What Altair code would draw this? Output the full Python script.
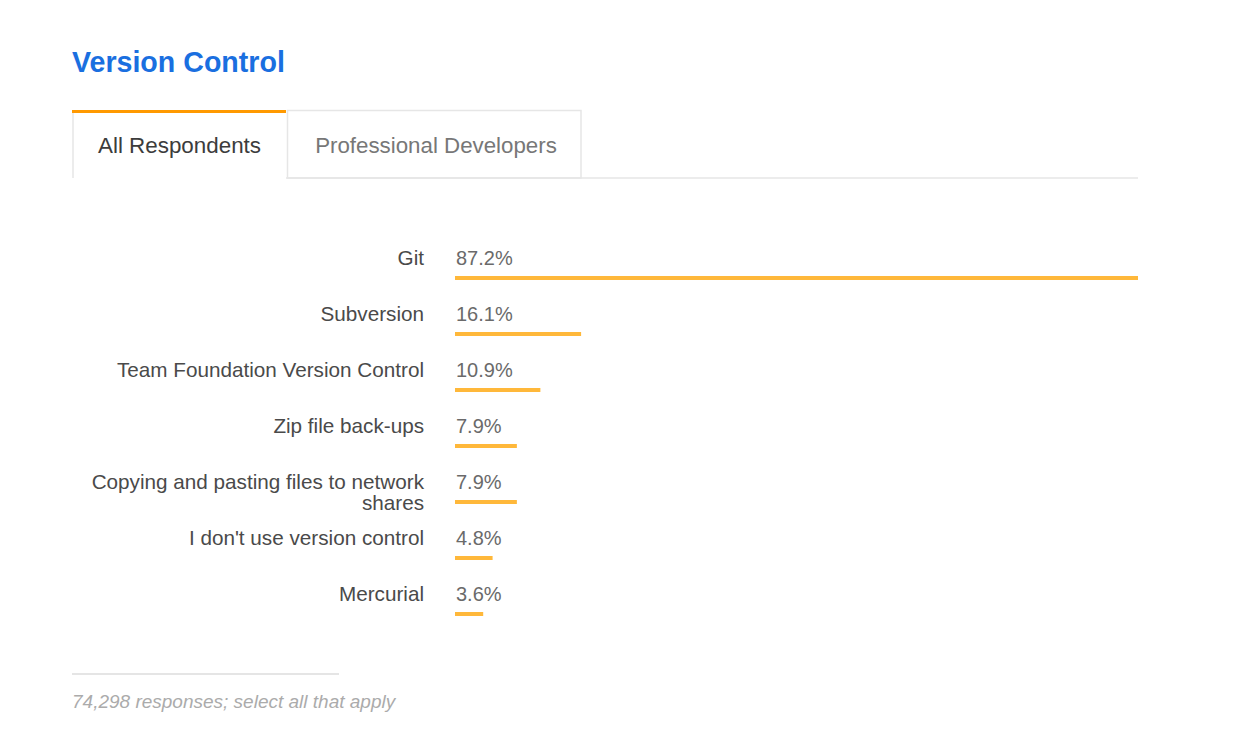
import altair as alt
import pandas as pd

# ---- data ----
categories = [
    "Git",
    "Subversion",
    "Team Foundation Version Control",
    "Zip file back-ups",
    "Copying and pasting files to network shares",
    "I don't use version control",
    "Mercurial",
]
label_lines = [
    ["Git"],
    ["Subversion"],
    ["Team Foundation Version Control"],
    ["Zip file back-ups"],
    ["Copying and pasting files to network", "shares"],
    ["I don't use version control"],
    ["Mercurial"],
]
values = [87.2, 16.1, 10.9, 7.9, 7.9, 4.8, 3.6]
value_labels = ["87.2%", "16.1%", "10.9%", "7.9%", "7.9%", "4.8%", "3.6%"]

title_text = "Version Control"
tab_labels = ["All Respondents", "Professional Developers"]
footer_text = "74,298 responses; select all that apply"

FONT = "Liberation Sans"
BAR = "#FFB83A"
ORANGE = "#FF9900"
BORDER = "#E6E6E6"

df = pd.DataFrame({
    "cat": categories,
    "lines": label_lines,
    "value": values,
    "vlabel": value_labels,
})

W, H = 1244, 727

yenc = alt.Y("cat:N", sort=categories,
             scale=alt.Scale(type="point", range=[270, 606], padding=0),
             axis=None)
xscale = alt.Scale(domain=[0, 87.2], range=[447, 1130])

base = alt.Chart(df)

bars = base.mark_bar(height=4, color=BAR).encode(
    x=alt.X("value:Q", scale=xscale, axis=None),
    x2=alt.datum(0),
    y=yenc,
)

cat_text = base.mark_text(
    align="right", baseline="top", dy=-29, font=FONT, fontSize=20.7,
    color="#4a4a4a", lineHeight=21,
).encode(x=alt.value(416), y=yenc, text="lines")

val_text = base.mark_text(
    align="left", baseline="top", dy=-29, font=FONT, fontSize=20,
    color="#6a6a6a",
).encode(x=alt.value(448), y=yenc, text="vlabel:N")

one = alt.Chart(pd.DataFrame({"k": [0]}))

title = one.mark_text(
    text=title_text, align="left", baseline="alphabetic", font=FONT,
    fontSize=28.6, fontWeight="bold", color="#1A6FE0",
).encode(x=alt.value(64), y=alt.value(64))

# tabs
orange_top = one.mark_rect(color=ORANGE).encode(
    x=alt.value(64), x2=alt.value(278), y=alt.value(102), y2=alt.value(105))
active_left = one.mark_rule(color=BORDER, strokeWidth=1.5).encode(
    x=alt.value(65), y=alt.value(105), y2=alt.value(170))
prof_box = one.mark_rect(fill="white", stroke=BORDER, strokeWidth=1.5).encode(
    x=alt.value(279.5), x2=alt.value(573), y=alt.value(102.5), y2=alt.value(170))
bottom_line = one.mark_rule(color=BORDER, strokeWidth=1.5).encode(
    x=alt.value(278), x2=alt.value(1130), y=alt.value(170))
tab1 = one.mark_text(
    text=tab_labels[0], align="center", baseline="middle", font=FONT,
    fontSize=22.4, color="#3c3c3c",
).encode(x=alt.value(171.5), y=alt.value(138))
tab2 = one.mark_text(
    text=tab_labels[1], align="center", baseline="middle", font=FONT,
    fontSize=22.3, color="#777777",
).encode(x=alt.value(428), y=alt.value(138))

# footer
footer_line = one.mark_rule(color="#DDDDDD", strokeWidth=1.5).encode(
    x=alt.value(64), x2=alt.value(331), y=alt.value(666))
footer = one.mark_text(
    text=footer_text, align="left", baseline="alphabetic", font=FONT,
    fontSize=19, fontStyle="italic", color="#ABABAB",
).encode(x=alt.value(64), y=alt.value(700))

chart = alt.layer(
    orange_top, prof_box, active_left, bottom_line, tab1, tab2,
    title, bars, cat_text, val_text, footer_line, footer,
).properties(
    width=W, height=H,
    autosize=alt.AutoSizeParams(type="none"),
    padding=0,
).configure_view(stroke=None)

chart.save("out.html", embed_options={"renderer": "svg", "actions": False})
